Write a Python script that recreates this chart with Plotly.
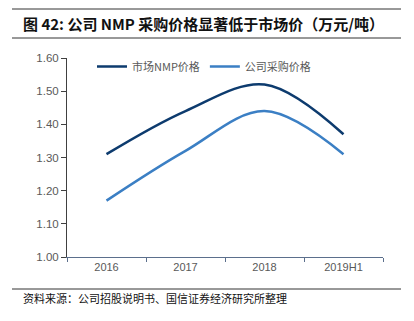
import plotly.graph_objects as go

categories = ["2016", "2017", "2018", "2019H1"]
market_price = [1.31, 1.44, 1.52, 1.37]
company_price = [1.17, 1.32, 1.44, 1.31]
series_names = ["市场NMP价格", "公司采购价格"]
title_text = "图 42: 公司 NMP 采购价格显著低于市场价（万元/吨）"
source_text = "资料来源：公司招股说明书、国信证券经济研究所整理"

W, H = 414, 321
L, R, T, B = 67, 31, 58, 64
pw, ph = W - L - R, H - T - B

def px(x):
    return (x - L) / pw

def py(y):
    return (H - B - y) / ph

fig = go.Figure()
fig.add_trace(go.Scatter(x=categories, y=market_price, name=series_names[0], mode="lines",
                         line=dict(color="#0d3b6e", width=2.5, shape="spline", smoothing=1)))
fig.add_trace(go.Scatter(x=categories, y=company_price, name=series_names[1], mode="lines",
                         line=dict(color="#3b7fc4", width=2.5, shape="spline", smoothing=1)))

font_cjk = "Noto Sans CJK SC"
fig.update_layout(
    width=W, height=H,
    margin=dict(l=L, r=R, t=T, b=B),
    paper_bgcolor="white", plot_bgcolor="white",
    font=dict(family="Liberation Sans, Arial", color="#595959", size=11),
    legend=dict(orientation="h", x=px(92), y=py(52), xanchor="left", yanchor="top",
                font=dict(family=font_cjk, size=11, color="#595959"),
                bgcolor="rgba(0,0,0,0)", itemwidth=30, tracegroupgap=0),
    xaxis=dict(type="category", showline=True, linecolor="#5b6f8c", linewidth=1,
               ticks="outside", ticklen=4, tickcolor="#5b6f8c", tickson="boundaries",
               showgrid=False, range=[-0.5, 3.5], tickfont=dict(size=11, color="#595959")),
    yaxis=dict(range=[1.0, 1.6], dtick=0.1, tickformat=".2f", showline=True,
               linecolor="#404040", linewidth=1, ticks="outside", ticklen=5,
               tickcolor="#404040", showgrid=False, zeroline=False,
               tickfont=dict(size=11.5, color="#595959")),
    showlegend=True,
)

# title rules and text
fig.add_shape(type="line", xref="paper", yref="paper", x0=px(12), x1=px(401), y0=py(9), y1=py(9),
              line=dict(color="#333333", width=1))
fig.add_shape(type="line", xref="paper", yref="paper", x0=px(12), x1=px(401), y0=py(38), y1=py(38),
              line=dict(color="#333333", width=1))
fig.add_annotation(xref="paper", yref="paper", x=px(21), y=py(23), xanchor="left", yanchor="middle",
                   text="<b>" + title_text + "</b>", showarrow=False,
                   font=dict(family=font_cjk, size=15, color="#111111"))

# source rule and text
fig.add_shape(type="line", xref="paper", yref="paper", x0=px(12), x1=px(401), y0=py(289), y1=py(289),
              line=dict(color="#333333", width=1))
fig.add_annotation(xref="paper", yref="paper", x=px(21), y=py(298), xanchor="left", yanchor="middle",
                   text=source_text, showarrow=False,
                   font=dict(family=font_cjk, size=11, color="#111111"))

fig.write_html("out.html")
